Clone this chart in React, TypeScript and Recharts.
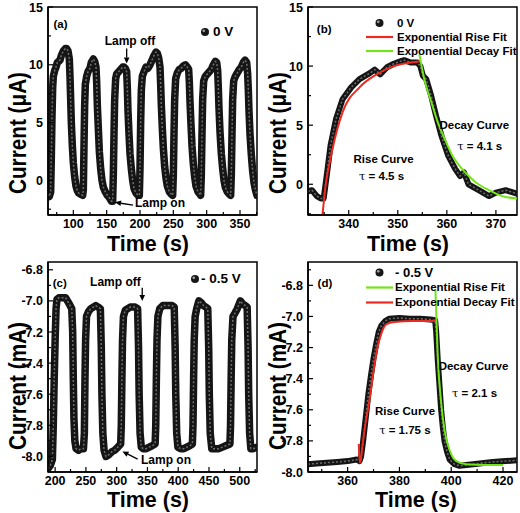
import React from "react";
import {
  ComposedChart,
  Line,
  XAxis,
  YAxis,
  ReferenceArea,
  ReferenceDot,
  ReferenceLine,
  Legend,
} from "recharts";

const FONT = "'Liberation Sans', Arial, Helvetica, sans-serif";
type Pt = [number, number];

// (a) switching at 0 V, current in µA
const pulsesA: Pt[] = [
  [62, -1.2], [64, -1.4], [66, -1.0], [67, 2.0], [68, 5.5], [69, 8.0], [70, 9.0], [72, 9.5], [74, 9.8],
  [76, 10.2], [78, 10.3], [80, 10.4], [82, 10.8], [85, 11.2], [88, 11.4], [90, 11.4], [92, 11.2], [94, 10.5],
  [95, 9.0], [96, 7.0], [97, 5.0], [98.5, 3.0], [100, 1.5], [102, 0.3], [104, -0.5], [106, -0.9], [108, -1.1],
  [111, -1.2], [114, -1.3],
  [115, -0.8], [116, 3.0], [117, 6.5], [118, 8.3], [120, 9.0], [122, 9.4], [125, 9.7], [127, 10.2], [130, 10.5],
  [132, 10.3], [134, 9.8], [135, 8.5], [136, 6.5], [137.5, 4.5], [139, 2.5], [141, 1.0], [143, 0.0], [145, -0.6],
  [148, -1.0], [151, -1.3], [154, -1.5], [157, -1.8], [159, -1.8],
  [160, 0.5], [161, 4.0], [162, 7.0], [163.5, 8.8], [165, 9.2], [168, 9.4], [171, 9.6], [174, 9.8], [176, 9.8],
  [178, 9.7], [180, 9.4], [181, 8.0], [182, 6.0], [183.5, 4.0], [185, 2.3], [187, 1.0], [189, 0.0], [191, -0.7],
  [194, -1.1], [197, -1.3], [199, -1.3],
  [200, 1.0], [201, 5.0], [202, 7.8], [203.5, 9.0], [206, 9.4], [209, 9.8], [212, 9.7], [215, 10.0], [218, 10.4],
  [221, 10.8], [224, 11.1], [226, 11.0], [228, 10.6], [230, 9.8], [231, 8.3], [232, 6.5], [233.5, 4.5], [235, 2.8],
  [237, 1.2], [239, 0.2], [241, -0.5], [244, -1.0], [247, -1.2], [249, -1.3],
  [250, 0.5], [251, 4.0], [252, 7.0], [253.5, 8.8], [256, 9.3], [259, 9.6], [262, 9.7], [265, 9.9], [268, 10.0],
  [271, 9.8], [273, 9.6], [274, 8.5], [275, 6.8], [276.5, 4.8], [278, 3.0], [280, 1.4], [282, 0.3], [284, -0.5],
  [287, -1.0], [290, -1.2], [291, -1.3],
  [292, 0.5], [293, 4.0], [294, 7.0], [295.5, 8.6], [298, 9.0], [301, 9.2], [304, 9.4], [307, 9.6], [310, 10.0],
  [313, 10.3], [315, 10.2], [316.5, 9.5], [317.5, 8.0], [318.5, 6.2], [320, 4.2], [322, 2.3], [324, 1.0], [326, 0.0],
  [328, -0.6], [331, -1.0], [334, -1.2], [336, -1.3],
  [337, 0.5], [338, 4.0], [339, 7.0], [340.5, 8.6], [343, 9.0], [346, 9.3], [349, 9.6], [352, 9.8], [355, 10.2],
  [357.5, 10.4], [360, 10.2], [361.5, 9.2], [362.5, 7.8], [363.5, 6.0], [365, 4.0], [367, 2.2], [369, 0.8],
  [371, -0.2], [373, -0.8], [375.5, -1.3],
];
const xMajorA = [100, 150, 200, 250, 300, 350];
const xMinorA = [75, 125, 175, 225, 275, 325, 375];
const yMajorA = [0, 5, 10, 15];
const yMinorA = [-2.5, 2.5, 7.5, 12.5];

// (b) single pulse at 0 V with fits
const pulseB: Pt[] = [
  [331.7, -0.6], [332.5, -0.5], [333.5, -1.0], [334.3, -1.2], [334.9, -1.2], [335.6, 1.0], [336.3, 3.3],
  [337.4, 5.5], [338.75, 7.2], [340.5, 8.2], [342.2, 8.9], [344.3, 9.4], [345.3, 9.7], [346.4, 9.3],
  [347.8, 9.9], [349.2, 10.2], [350.5, 10.4], [351.3, 10.5], [352.6, 10.3], [354, 10.3], [354.6, 10.0],
  [355.1, 9.2], [355.8, 8.9], [356.8, 7.5], [357.8, 5.8], [358.9, 4.1], [360.3, 2.4], [361.7, 1.3],
  [362.7, 0.7], [363.5, 1.0], [364.4, 0.0], [366.5, -0.5], [368.6, -1.0], [370, -0.7], [372, -0.5],
  [374.3, -0.8],
];
const riseFitB: Pt[] = [
  [334.6, -2.8], [335.3, -0.1], [336.7, 3.0], [338.75, 6.1], [342.2, 8.2], [345.7, 9.3], [349.2, 10.0],
  [352.6, 10.3], [354.6, 10.4],
];
const decayFitB: Pt[] = [
  [354.4, 11.0], [355.4, 8.9], [356.8, 7.0], [358.2, 5.2], [359.6, 3.8], [361.3, 2.3], [363.1, 1.3],
  [365.8, 0.2], [368.6, -0.5], [371.3, -1.0], [374.3, -1.2],
];
const xMajorB = [340, 350, 360, 370];
const xMinorB = [335, 345, 355, 365];

// (c) switching at -0.5 V, current in mA
const pulsesC: Pt[] = [
  [188, -8.08], [192, -8.06], [195.5, -8.02], [197, -7.8], [198.5, -7.5], [200, -7.25], [201.5, -7.05],
  [203, -6.99], [206, -6.98], [210, -6.98], [214, -6.98], [217, -6.98], [220, -7.0], [223, -7.02], [227, -7.05],
  [228.5, -7.2], [229.5, -7.5], [230.5, -7.75], [232, -7.9], [234, -7.95], [238, -7.96], [242, -7.95],
  [246, -7.95], [247.5, -7.85], [248.5, -7.5], [249.5, -7.25], [251, -7.1], [254, -7.07], [258, -7.05],
  [262, -7.04], [266, -7.03], [270, -7.04], [273.5, -7.05], [275, -7.3], [276, -7.6], [277.5, -7.85],
  [279.5, -7.96], [282.5, -8.0], [287, -7.99], [292, -7.97], [297, -7.96], [302, -7.94], [306.5, -7.92],
  [307.5, -7.8], [308.5, -7.5], [309.5, -7.25], [311, -7.1], [314, -7.06], [318, -7.05], [322, -7.04],
  [326, -7.04], [330, -7.04], [334, -7.05], [335.5, -7.3], [336.5, -7.6], [338, -7.85], [340, -7.94],
  [343, -7.95], [348, -7.95], [353, -7.94], [358, -7.93], [362.5, -7.92], [363.5, -7.8], [364.5, -7.5],
  [365.5, -7.25], [367, -7.1], [370, -7.05], [375, -7.03], [380, -7.03], [385, -7.03], [390, -7.03],
  [393.5, -7.04], [395, -7.3], [396, -7.6], [397.5, -7.85], [399.5, -7.94], [404, -7.95], [409, -7.95],
  [414, -7.94], [419, -7.93], [423, -7.92], [424, -7.8], [425, -7.5], [426, -7.25], [427.5, -7.1],
  [430, -7.05], [433.5, -7.0], [437, -7.01], [441, -7.03], [445, -7.04], [448, -7.05], [449.5, -7.3],
  [450.5, -7.6], [452, -7.85], [454.5, -7.95], [460, -7.95], [466, -7.95], [472, -7.94], [478, -7.93],
  [484, -7.92], [485, -7.8], [486, -7.5], [487, -7.25], [489, -7.1], [492, -7.08], [496, -7.05], [501, -7.0],
  [505, -7.02], [509, -7.03], [512, -7.04], [513.5, -7.3], [514.5, -7.6], [516, -7.85], [518, -7.95],
  [522, -7.95], [528, -7.94],
];
const xMajorC = [200, 250, 300, 350, 400, 450, 500];
const xMinorC = [225, 275, 325, 375, 425, 475, 525];
const yMajorMA = [-8.0, -7.8, -7.6, -7.4, -7.2, -7.0, -6.8];
const yMinorC = [-7.9, -7.7, -7.5, -7.3, -7.1, -6.9];

// (d) single pulse at -0.5 V with fits
const pulseD: Pt[] = [
  [344.7, -7.95], [348, -7.945], [352, -7.94], [356, -7.935], [360, -7.93], [363.5, -7.92], [364.6, -7.93],
  [365.2, -7.9], [366, -7.8], [367, -7.65], [368, -7.5], [369, -7.38], [370, -7.27], [371, -7.18], [372, -7.1],
  [373, -7.06], [374.5, -7.03], [376, -7.015], [380, -7.01], [384, -7.015], [388, -7.015], [392, -7.02],
  [393.8, -7.025], [394.2, -7.1], [394.8, -7.28], [395.5, -7.45], [396.1, -7.6], [396.8, -7.72], [397.4, -7.8],
  [398.4, -7.87], [399.4, -7.92], [401.3, -7.95], [403.2, -7.96], [405.8, -7.955], [408.4, -7.95],
  [411, -7.945], [416, -7.935], [421, -7.93], [425.4, -7.925],
];
const decayFitD: Pt[] = [
  [364.3, -7.82], [364.7, -7.94], [365.0, -7.93], [365.8, -7.82], [367, -7.68], [368.4, -7.54], [370, -7.35],
  [371.5, -7.2], [373, -7.11], [375, -7.05], [378, -7.035], [385, -7.03], [394, -7.03],
];
const riseFitD: Pt[] = [
  [393.9, -6.83], [394.8, -7.26], [396.1, -7.55], [397.4, -7.73], [399.4, -7.86], [402, -7.93], [405.8, -7.95],
  [413.5, -7.955], [420, -7.955],
];
const xMajorD = [360, 380, 400, 420];
const xMinorD = [350, 370, 390, 410];
const yMinorD = [-7.9, -7.7, -7.5, -7.3, -7.1, -6.9, -6.7];

const RED = "#ec2a20";
const GREEN = "#72e41a";
const AXIS = { stroke: "#000", strokeWidth: 1.5 };

type Note = { x: number; y: number; text: string; start?: boolean; size?: number };
type Arrow = { from: Pt; to: Pt };
type LegendItem = { label: string; color?: string; size?: number };

interface PanelSpec {
  left: number;
  top: number;
  plotTop: number;
  plotBottom: number;
  xDomain: [number, number];
  yDomain: [number, number];
  xMajor: number[];
  xMinor: number[];
  yMajor: number[];
  yMinor: number[];
  yDigits: number;
  data: Pt[];
  band: number;
  fits: { pts: Pt[]; color: string }[];
  notes: Note[];
  arrows: Arrow[];
  legend: { items: LegendItem[]; x: number; y: number; iconW: number; gap: number; row: number; size: number };
  yTitle: string;
  yTitleW: number;
  yTitleY: number;
  xTitleX: number;
}

const rows = (pts: Pt[]) => pts.map(([t, v]) => ({ t, v }));
const isIn = (list: number[], v: number) => list.some((m) => Math.abs(m - v) < 1e-6);

const xTick = (major: number[]) => (p: any) => {
  const v = p.payload.value;
  const big = isIn(major, v);
  return (
    <g>
      <line x1={p.x} x2={p.x} y1={p.y} y2={p.y - (big ? 5 : 3)} stroke="#000" strokeWidth={1.2} />
      {big && (
        <text x={p.x} y={p.y + 12.5} textAnchor="middle" fontFamily={FONT} fontSize={12.5} fontWeight={700} fill="#000">
          {v.toFixed(0)}
        </text>
      )}
    </g>
  );
};

const yTick = (major: number[], digits: number) => (p: any) => {
  const v = p.payload.value;
  const big = isIn(major, v);
  return (
    <g>
      <line x1={p.x} x2={p.x + (big ? 5 : 3)} y1={p.y} y2={p.y} stroke="#000" strokeWidth={1.2} />
      {big && (
        <text x={p.x - 5} y={p.y + 4.5} textAnchor="end" fontFamily={FONT} fontSize={12.5} fontWeight={700} fill="#000">
          {v.toFixed(digits)}
        </text>
      )}
    </g>
  );
};

const ArrowShape = (p: any) => {
  const { x1, y1, x2, y2 } = p;
  if ([x1, y1, x2, y2].some((n) => typeof n !== "number" || isNaN(n))) return <g />;
  const a = Math.atan2(y2 - y1, x2 - x1);
  const L = 6;
  const W = 2.8;
  const bx = x2 - L * Math.cos(a);
  const by = y2 - L * Math.sin(a);
  const pts = `${x2},${y2} ${bx + W * Math.sin(a)},${by - W * Math.cos(a)} ${bx - W * Math.sin(a)},${by + W * Math.cos(a)}`;
  return (
    <g>
      <line x1={x1} y1={y1} x2={bx} y2={by} stroke="#000" strokeWidth={1.3} />
      <polygon points={pts} fill="#000" />
    </g>
  );
};

function Bead({ cx, cy, r = 4 }: { cx: number; cy: number; r?: number }) {
  return (
    <g>
      <circle cx={cx} cy={cy} r={r} fill="#161616" />
      <circle cx={cx - r * 0.3} cy={cy - r * 0.3} r={r * 0.35} fill="#9a9a9a" />
    </g>
  );
}

function LegendBox({ items, iconW, gap, row, size }: PanelSpec["legend"]) {
  return (
    <div style={{ fontFamily: FONT, fontWeight: 700, fontSize: size, color: "#000" }}>
      {items.map((it) => (
        <div key={it.label} style={{ display: "flex", alignItems: "center", height: row, whiteSpace: "nowrap" }}>
          <svg width={iconW} height={row} style={{ flex: "none", display: "block" }}>
            {it.color ? (
              <line x1={0} x2={iconW} y1={row / 2} y2={row / 2} stroke={it.color} strokeWidth={2.2} />
            ) : (
              <Bead cx={iconW / 2} cy={row / 2} />
            )}
          </svg>
          <span style={{ marginLeft: gap, fontSize: it.size ?? size, lineHeight: `${row}px` }}>{it.label}</span>
        </div>
      ))}
    </div>
  );
}

function Panel(p: PanelSpec) {
  const [x0, x1] = p.xDomain;
  const [y0, y1] = p.yDomain;
  return (
    <div style={{ position: "absolute", left: p.left, top: p.top, width: 260, height: 256 }}>
      <ComposedChart width={260} height={256} margin={{ top: p.plotTop, right: 3, bottom: 0, left: 0 }}>
        <XAxis
          dataKey="t"
          type="number"
          domain={p.xDomain}
          allowDataOverflow
          ticks={[...p.xMajor, ...p.xMinor]}
          interval={0}
          tick={xTick(p.xMajor)}
          tickLine={false}
          tickSize={0}
          tickMargin={0}
          axisLine={AXIS}
          height={256 - p.plotBottom}
        />
        <YAxis
          type="number"
          domain={p.yDomain}
          allowDataOverflow
          ticks={[...p.yMajor, ...p.yMinor]}
          interval={0}
          tick={yTick(p.yMajor, p.yDigits)}
          tickLine={false}
          tickSize={0}
          tickMargin={0}
          axisLine={AXIS}
          width={48}
        />
        <ReferenceArea x1={x0} x2={x1} y1={y0} y2={y1} fill="none" stroke="#000" strokeWidth={1.5} ifOverflow="visible" />
        <Line
          data={rows(p.data)}
          dataKey="v"
          type="linear"
          stroke="#151515"
          strokeWidth={p.band}
          strokeLinejoin="round"
          strokeLinecap="round"
          dot={false}
          isAnimationActive={false}
        />
        <Line
          data={rows(p.data)}
          dataKey="v"
          type="linear"
          stroke="#6e6e6e"
          strokeWidth={1.5}
          strokeDasharray="2 2"
          dot={false}
          isAnimationActive={false}
        />
        {p.fits.map((f, i) => (
          <Line
            key={`fit${i}`}
            data={rows(f.pts)}
            dataKey="v"
            type="monotone"
            stroke={f.color}
            strokeWidth={2}
            dot={false}
            isAnimationActive={false}
          />
        ))}
        {p.arrows.map((a, i) => (
          <ReferenceLine
            key={`arr${i}`}
            segment={[{ x: a.from[0], y: a.from[1] }, { x: a.to[0], y: a.to[1] }]}
            ifOverflow="visible"
            shape={ArrowShape}
          />
        ))}
        {p.notes.map((n, i) => (
          <ReferenceDot
            key={`note${i}`}
            x={n.x}
            y={n.y}
            r={0}
            ifOverflow="visible"
            shape={(s: any) => (
              <text
                x={s.cx}
                y={s.cy}
                dominantBaseline="central"
                textAnchor={n.start ? "start" : "middle"}
                fontFamily={FONT}
                fontSize={n.size ?? 11.5}
                fontWeight={700}
                fill="#000"
              >
                {n.text.startsWith("τ") ? (
                  <>
                    <tspan fontWeight={400} fontFamily="'DejaVu Serif', serif">τ</tspan>
                    {n.text.slice(1)}
                  </>
                ) : (
                  n.text
                )}
              </text>
            )}
          />
        ))}
        <Legend
          layout="horizontal"
          verticalAlign="middle"
          align="center"
          wrapperStyle={{ left: p.legend.x, top: p.legend.y, width: "auto", height: "auto", margin: 0 }}
          content={() => <LegendBox {...p.legend} />}
        />
      </ComposedChart>
      <svg width={260} height={256} style={{ position: "absolute", left: 0, top: 0, pointerEvents: "none" }}>
        <text
          transform={`translate(26 ${p.yTitleY}) rotate(-90)`}
          textAnchor="middle"
          fontFamily={FONT}
          fontSize={23}
          fontWeight={700}
          textLength={p.yTitleW}
          lengthAdjust="spacingAndGlyphs"
        >
          {p.yTitle}
        </text>
        <text
          x={p.xTitleX}
          y={251}
          textAnchor="middle"
          fontFamily={FONT}
          fontSize={22}
          fontWeight={700}
          textLength={82}
          lengthAdjust="spacingAndGlyphs"
        >
          Time (s)
        </text>
      </svg>
    </div>
  );
}

const panelA: PanelSpec = {
  left: 0, top: 0, plotTop: 7, plotBottom: 215,
  xDomain: [62, 375.5], yDomain: [-3, 15],
  xMajor: xMajorA, xMinor: xMinorA, yMajor: yMajorA, yMinor: yMinorA, yDigits: 0,
  data: pulsesA, band: 7.5, fits: [],
  notes: [
    { x: 70.3, y: 13.5, text: "(a)", start: true },
    { x: 185, y: 12.1, text: "Lamp off", size: 12 },
    { x: 192.5, y: -1.97, text: "Lamp on", start: true, size: 12 },
  ],
  arrows: [
    { from: [180, 11.4], to: [180, 10.1] },
    { from: [189.5, -2.15], to: [162.5, -1.9] },
  ],
  legend: { items: [{ label: "0 V" }], x: 200, y: 24.7, iconW: 10, gap: 3, row: 14, size: 13.5 },
  yTitle: "Current (μA)", yTitleW: 122, yTitleY: 133, xTitleX: 148,
};

const panelB: PanelSpec = {
  left: 260, top: 0, plotTop: 7, plotBottom: 215,
  xDomain: [331.7, 374.3], yDomain: [-2.6, 15],
  xMajor: xMajorB, xMinor: xMinorB, yMajor: yMajorA, yMinor: yMinorA, yDigits: 0,
  data: pulseB, band: 6,
  fits: [
    { pts: riseFitB, color: RED },
    { pts: decayFitB, color: GREEN },
  ],
  notes: [
    { x: 333.5, y: 13.15, text: "(b)", start: true },
    { x: 365.6, y: 5.0, text: "Decay Curve" },
    { x: 366.7, y: 3.26, text: "τ  = 4.1 s" },
    { x: 347.1, y: 2.13, text: "Rise Curve" },
    { x: 346.7, y: 0.73, text: "τ  = 4.5 s" },
  ],
  arrows: [],
  legend: {
    items: [
      { label: "0 V" },
      { label: "Exponential Rise Fit", color: RED },
      { label: "Exponential Decay Fit", color: GREEN },
    ],
    x: 106, y: 16.3, iconW: 27, gap: 4, row: 14, size: 11.5,
  },
  yTitle: "Current (μA)", yTitleW: 122, yTitleY: 133, xTitleX: 148,
};

const panelC: PanelSpec = {
  left: 0, top: 256, plotTop: 6, plotBottom: 216,
  xDomain: [188.4, 528], yDomain: [-8.1, -6.75],
  xMajor: xMajorC, xMinor: xMinorC, yMajor: yMajorMA, yMinor: yMinorC, yDigits: 1,
  data: pulsesC, band: 7.5, fits: [],
  notes: [
    { x: 196, y: -6.883, text: "(c)", start: true },
    { x: 298, y: -6.879, text: "Lamp off", size: 12 },
    { x: 339.5, y: -8.024, text: "Lamp on", start: true, size: 12 },
  ],
  arrows: [
    { from: [341.5, -6.915], to: [341.5, -7.0] },
    { from: [334, -8.017], to: [309.4, -7.968] },
  ],
  legend: { items: [{ label: "- 0.5 V" }], x: 190, y: 15.7, iconW: 10, gap: 1, row: 14, size: 13.5 },
  yTitle: "Current (mA)", yTitleW: 128, yTitleY: 130, xTitleX: 148,
};

const panelD: PanelSpec = {
  left: 260, top: 256, plotTop: 6, plotBottom: 216,
  xDomain: [344.7, 425.4], yDomain: [-8.0, -6.65],
  xMajor: xMajorD, xMinor: xMinorD, yMajor: yMajorMA, yMinor: yMinorD, yDigits: 1,
  data: pulseD, band: 6,
  fits: [
    { pts: decayFitD, color: RED },
    { pts: riseFitD, color: GREEN },
  ],
  notes: [
    { x: 348.4, y: -6.785, text: "(d)", start: true },
    { x: 408.6, y: -7.32, text: "Decay Curve" },
    { x: 409, y: -7.49, text: "τ  = 2.1 s" },
    { x: 382.2, y: -7.61, text: "Rise Curve" },
    { x: 382.1, y: -7.73, text: "τ  = 1.75 s" },
  ],
  arrows: [],
  legend: {
    items: [
      { label: "- 0.5 V", size: 13 },
      { label: "Exponential Rise Fit", color: GREEN },
      { label: "Exponential Decay Fit", color: RED },
    ],
    x: 106, y: 8.5, iconW: 27, gap: 2, row: 15, size: 11.5,
  },
  yTitle: "Current (mA)", yTitleW: 128, yTitleY: 130, xTitleX: 156,
};

export default function App() {
  return (
    <div style={{ position: "absolute", left: 0, top: 0, width: 520, height: 513, background: "#fff", overflow: "hidden" }}>
      <Panel {...panelA} />
      <Panel {...panelB} />
      <Panel {...panelC} />
      <Panel {...panelD} />
    </div>
  );
}
